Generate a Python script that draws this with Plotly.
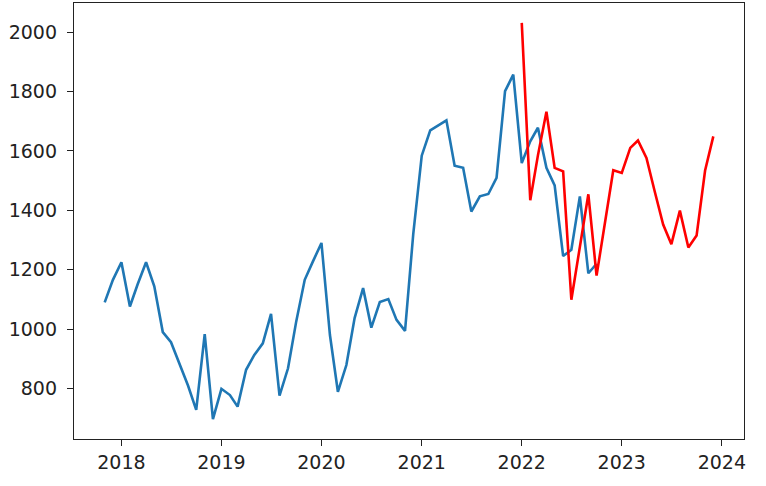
import pandas as pd
import plotly.graph_objects as go

# monthly series
blue_dates = pd.date_range("2017-11-01", periods=60, freq="MS")
blue_values = [1090, 1166, 1225, 1076, 1150, 1225, 1144, 990, 956, 885, 810, 728,
               983, 697, 799, 778, 739, 863, 913, 952, 1051, 776, 868, 1026,
               1166, 1228, 1290, 980, 789, 879, 1037, 1138, 1005, 1091, 1101, 1031,
               994, 1320, 1584, 1669, 1686, 1703, 1550, 1543, 1396, 1447, 1455, 1509,
               1801, 1857, 1559, 1632, 1678, 1543, 1484, 1246, 1267, 1447, 1188, 1220]

red_dates = pd.date_range("2022-01-01", periods=24, freq="MS")
red_values = [2031, 1434, 1585, 1732, 1543, 1531, 1099, 1275, 1454, 1180, 1356, 1535,
              1526, 1610, 1635, 1576, 1464, 1352, 1286, 1399, 1275, 1315, 1534, 1649]

year_ticks = ["2018-01-01", "2019-01-01", "2020-01-01", "2021-01-01",
              "2022-01-01", "2023-01-01", "2024-01-01"]
year_labels = ["2018", "2019", "2020", "2021", "2022", "2023", "2024"]
y_ticks = [800, 1000, 1200, 1400, 1600, 1800, 2000]

fig = go.Figure()

fig.add_trace(go.Scatter(
    x=blue_dates, y=blue_values, mode="lines",
    line=dict(color="#1f77b4", width=2.6)
))
fig.add_trace(go.Scatter(
    x=red_dates, y=red_values, mode="lines",
    line=dict(color="#ff0000", width=2.6)
))

axis_style = dict(
    showline=True, mirror=True, linecolor="#222", linewidth=1.4,
    ticks="outside", ticklen=6, tickwidth=1.3, tickcolor="#222",
    showgrid=False, zeroline=False,
    tickfont=dict(family="DejaVu Sans", size=19, color="#222"),
)

fig.update_layout(
    width=766, height=486,
    margin=dict(l=74, r=22, t=3, b=47),
    paper_bgcolor="white", plot_bgcolor="white",
    showlegend=False,
    xaxis=dict(type="date", range=["2017-07-12", "2024-03-22"],
               tickvals=year_ticks, ticktext=year_labels, **axis_style),
    yaxis=dict(range=[630, 2098], tickvals=y_ticks, ticklabelstandoff=6,
               **axis_style),
)

# page body has an 8px default margin, drop it so the figure sits at 0,0
fig.write_html("out.html", config={"displayModeBar": False},
               post_script="document.body.style.margin='0';")
